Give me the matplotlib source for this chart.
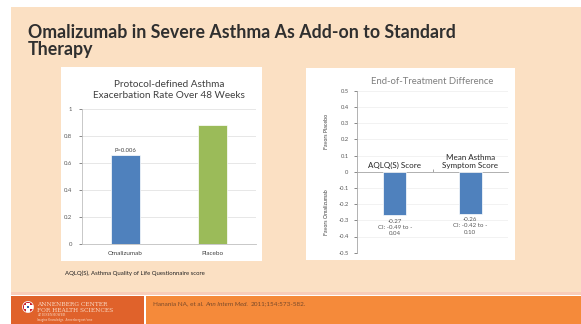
import matplotlib.pyplot as plt
import matplotlib.patches as mpatches

# chart data
left_categories = ['Omalizumab', 'Placebo']
left_rates = [0.66, 0.88]
left_colors = ['#4F81BD', '#9BBB59']
left_ticks = [0, 0.2, 0.4, 0.6, 0.8, 1]
left_tick_labels = ['0', '0.2', '0.4', '0.6', '0.8', '1']

right_categories = ['AQLQ(S) Score', 'Mean Asthma\nSymptom Score']
right_diffs = [-0.27, -0.26]
right_notes = ['-0.27\nCI: -0.49 to -\n0.04', '-0.26\nCI: -0.42 to -\n0.10']
right_ticks = [0.5, 0.4, 0.3, 0.2, 0.1, 0, -0.1, -0.2, -0.3, -0.4, -0.5]

footer_parts = ['Hanania NA, et al.', 'Ann Intern Med.', '2011;154:573-582.']
footer_styles = ['normal', 'italic', 'normal']

W, H = 581, 324
FONT = 'Lato'
plt.rcParams['font.family'] = [FONT, 'DejaVu Sans']


def frac(x0, y0, x1, y1):
    # pixel box (top-left origin) -> figure fraction [l, b, w, h]
    return [x0 / W, 1 - y1 / H, (x1 - x0) / W, (y1 - y0) / H]


fig = plt.figure(figsize=(W / 100, H / 100), dpi=100)
fig.patch.set_facecolor('white')

# background / slide furniture drawn in pixel coordinates
bg = fig.add_axes([0, 0, 1, 1], zorder=0)
bg.set_xlim(0, W)
bg.set_ylim(H, 0)
bg.axis('off')

bg.add_patch(mpatches.Rectangle((11, 7), W - 11, 286, color='#FBE0C3', lw=0))
bg.add_patch(mpatches.Rectangle((11, 292), W - 11, 3, color='#F9CDB9', lw=0))
bg.add_patch(mpatches.Rectangle((11, 296), 133, 28, color='#E0622B', lw=0))
bg.add_patch(mpatches.Rectangle((146, 296), W - 146, 28, color='#F58A3A', lw=0))

# white chart panels
bg.add_patch(mpatches.Rectangle((61, 67), 201, 194, color='white', lw=0))
bg.add_patch(mpatches.Rectangle((306, 68), 209, 192, color='white', lw=0))

bg.text(28, 32, 'Omalizumab in Severe Asthma As Add-on to Standard', fontsize=12.8,
        fontweight='bold', color='#2F2F2F', va='center', ha='left')
bg.text(28, 50, 'Therapy', fontsize=12.8, fontweight='bold', color='#2F2F2F',
        va='center', ha='left')

bg.text(65, 273.5, 'AQLQ(S), Asthma Quality of Life Questionnaire score', fontsize=4.3,
        color='#222222', va='center', ha='left')

# footer logo
bg.add_patch(mpatches.Circle((28, 307), 5.5, color='#C8202F', lw=0.6, ec='white'))
bg.add_patch(mpatches.Rectangle((26.3, 302.5), 3.4, 9, color='white', lw=0))
bg.add_patch(mpatches.Rectangle((23.5, 305.3), 9, 3.4, color='white', lw=0))
bg.add_patch(mpatches.Rectangle((26.8, 305.8), 2.4, 2.4, color='#2E5CA8', lw=0))
bg.text(37, 304, 'ANNENBERG CENTER', fontsize=4.2, family='DejaVu Serif',
        color='#F9D9C4', va='center', ha='left')
bg.text(37, 310, 'FOR HEALTH SCIENCES', fontsize=4.2, family='DejaVu Serif',
        color='#F9D9C4', va='center', ha='left')
bg.text(37, 315.5, 'AT EISENHOWER', fontsize=2.2, family='DejaVu Serif',
        color='#F9D9C4', va='center', ha='left')
bg.text(37, 320.5, 'Imagine Knowledge.  Annenberg.net/cme', fontsize=2.2,
        color='#F9D9C4', va='center', ha='left')

# footer reference, pieces placed one after another
renderer = fig.canvas.get_renderer()
xpos = 153
for part, style in zip(footer_parts, footer_styles):
    t = bg.text(xpos, 304, part, fontsize=4.6, color='#7A4A2A', style=style,
                va='center', ha='left')
    ext = t.get_window_extent(renderer=renderer)
    xpos += ext.width + 2.2

# left chart: exacerbation rate
ax1 = fig.add_axes(frac(82, 108.7, 256, 243.7), zorder=1)
ax1.set_facecolor('none')
x1 = range(len(left_categories))
ax1.bar(x1, left_rates, width=0.33, color=left_colors, edgecolor='white', linewidth=0.5, zorder=3)
ax1.set_xlim(-0.5, 1.5)
ax1.set_ylim(0, 1)
ax1.set_yticks(left_ticks)
ax1.set_yticklabels(left_tick_labels)
ax1.set_xticks(list(x1))
ax1.set_xticklabels(left_categories)
ax1.tick_params(axis='y', labelsize=4.3, colors='#595959', length=2, width=0.5, pad=5)
ax1.tick_params(axis='x', labelsize=4.6, colors='#404040', length=0, pad=5)
ax1.grid(axis='y', color='#E3E3E3', linewidth=0.6, zorder=0)
for s in ['top', 'right']:
    ax1.spines[s].set_visible(False)
for s in ['left', 'bottom']:
    ax1.spines[s].set_color('#BFBFBF')
    ax1.spines[s].set_linewidth(0.6)
ax1.text(0, left_rates[0] + 0.01, 'P=0.006', fontsize=4.2, color='#404040', ha='center', va='bottom')
ax1.set_title('Protocol-defined Asthma\nExacerbation Rate Over 48 Weeks', fontsize=7.2,
              color='#404040', pad=8, linespacing=1.2)

# right chart: end-of-treatment difference
ax2 = fig.add_axes(frac(357, 90.7, 508, 252.7), zorder=1)
ax2.set_facecolor('none')
x2 = range(len(right_categories))
ax2.bar(x2, right_diffs, width=0.31, color='#4F81BD', edgecolor='white', linewidth=0.5, zorder=3)
ax2.set_xlim(-0.5, 1.5)
ax2.set_ylim(-0.5, 0.5)
ax2.set_yticks(right_ticks)
ax2.set_yticklabels([f'{t:g}' for t in right_ticks])
ax2.tick_params(axis='y', labelsize=4.2, colors='#595959', length=2, width=0.5, pad=4)
ax2.set_xticks([0.5])
ax2.set_xticklabels([''])
ax2.tick_params(axis='x', length=2, width=0.5, colors='#808080', direction='in')
ax2.grid(axis='y', color='#EDEDED', linewidth=0.5, zorder=0)
for s in ['top', 'right']:
    ax2.spines[s].set_visible(False)
ax2.spines['bottom'].set_position(('data', 0))
for s in ['left', 'bottom']:
    ax2.spines[s].set_color('#A6A6A6')
    ax2.spines[s].set_linewidth(0.6)
for i, label in enumerate(right_categories):
    ax2.text(i, 0.018, label, fontsize=5.8, color='#262626', ha='center', va='bottom',
             linespacing=1.1)
for i, note in enumerate(right_notes):
    ax2.text(i, right_diffs[i] - 0.02, note, fontsize=4.4, color='#595959', ha='center',
             va='top', linespacing=1.35)
ax2.set_title('End-of-Treatment Difference', fontsize=6.8, color='#7F7F7F', pad=5)

# vertical side labels of the right chart
bg.text(326, 131, 'Favors Placebo', fontsize=3.8, color='#404040', rotation=90,
        ha='center', va='center')
bg.text(326, 212, 'Favors Omalizumab', fontsize=3.8, color='#404040', rotation=90,
        ha='center', va='center')

fig.savefig('out.png', dpi=100)
